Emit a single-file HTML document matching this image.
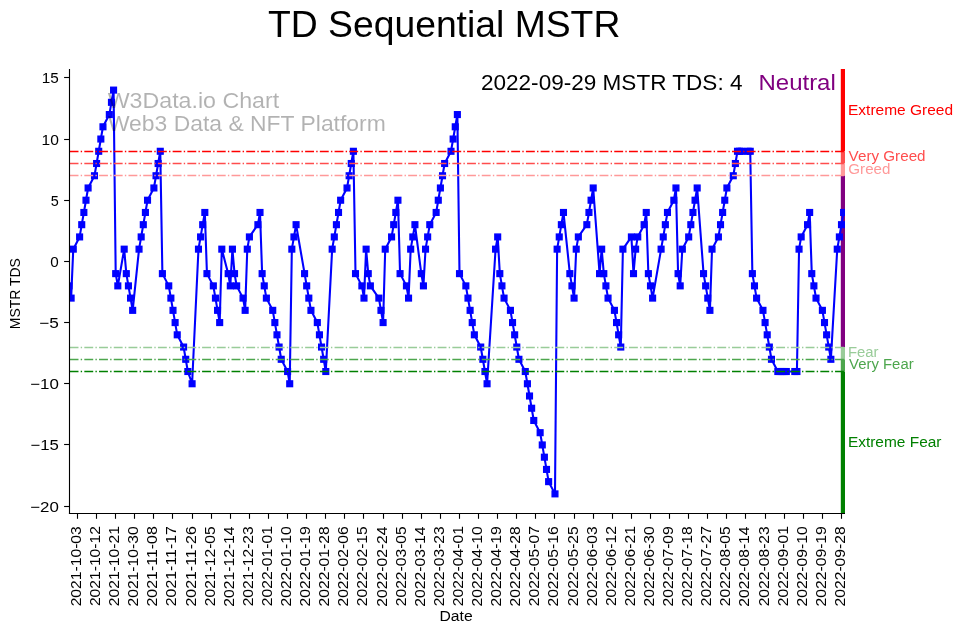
<!DOCTYPE html><html><head><meta charset="utf-8"><title>TD Sequential MSTR</title>
<style>html,body{margin:0;padding:0;background:#fff;width:962px;height:633px;overflow:hidden}svg{display:block;will-change:transform}text{font-family:"Liberation Sans",sans-serif;}</style></head><body>
<svg width="962" height="633" viewBox="0 0 962 633">
<rect x="0" y="0" width="962" height="633" fill="#fff"/>
<defs><clipPath id="ax"><rect x="69.0" y="69.0" width="776.0" height="445.0"/></clipPath></defs>
<rect x="840.8" y="69.00" width="4.20" height="82.28" fill="#ff0000"/>
<rect x="840.8" y="151.28" width="4.20" height="12.24" fill="#ff4d4d"/>
<rect x="840.8" y="163.51" width="4.20" height="12.24" fill="#ff9999"/>
<rect x="840.8" y="175.75" width="4.20" height="171.30" fill="#800080"/>
<rect x="840.8" y="347.05" width="4.20" height="12.24" fill="#99cc99"/>
<rect x="840.8" y="359.29" width="4.20" height="12.24" fill="#4da64d"/>
<rect x="840.8" y="371.52" width="4.20" height="142.48" fill="#008000"/>
<g clip-path="url(#ax)">
<polyline fill="none" stroke="#0000ff" stroke-width="2.08" stroke-linejoin="round" stroke-linecap="square" points="69.01,285.87 71.13,298.11 73.26,249.16 79.62,236.93 81.74,224.69 83.87,212.46 85.99,200.22 88.11,187.98 94.48,175.75 96.60,163.51 98.72,151.28 100.84,139.04 102.97,126.80 109.33,114.57 111.46,102.33 113.58,90.10 115.70,273.64 117.82,285.87 124.19,249.16 126.31,273.64 128.43,285.87 130.56,298.11 132.68,310.34 139.04,249.16 141.17,236.93 143.29,224.69 145.41,212.46 147.53,200.22 153.90,187.98 156.02,175.75 158.14,163.51 160.27,151.28 162.39,273.64 168.75,285.87 170.88,298.11 173.00,310.34 175.12,322.58 177.24,334.82 183.61,347.05 185.73,359.29 187.85,371.52 192.10,383.76 198.47,249.16 200.59,236.93 202.71,224.69 204.83,212.46 206.95,273.64 213.32,285.87 215.44,298.11 217.57,310.34 219.69,322.58 221.81,249.16 228.18,273.64 230.30,285.87 232.42,249.16 234.54,273.64 236.66,285.87 243.03,298.11 245.15,310.34 247.28,249.16 249.40,236.93 257.89,224.69 260.01,212.46 262.13,273.64 264.25,285.87 266.38,298.11 272.74,310.34 274.86,322.58 276.99,334.82 279.11,347.05 281.23,359.29 287.60,371.52 289.72,383.76 291.84,249.16 293.96,236.93 296.09,224.69 304.58,273.64 306.70,285.87 308.82,298.11 310.94,310.34 317.31,322.58 319.43,334.82 321.55,347.05 323.68,359.29 325.80,371.52 332.16,249.16 334.29,236.93 336.41,224.69 338.53,212.46 340.65,200.22 347.02,187.98 349.14,175.75 351.26,163.51 353.39,151.28 355.51,273.64 361.87,285.87 364.00,298.11 366.12,249.16 368.24,273.64 370.36,285.87 378.85,298.11 380.97,310.34 383.10,322.58 385.22,249.16 391.59,236.93 393.71,224.69 395.83,212.46 397.95,200.22 400.07,273.64 406.44,285.87 408.56,298.11 410.69,249.16 412.81,236.93 414.93,224.69 421.30,273.64 423.42,285.87 425.54,249.16 427.66,236.93 429.79,224.69 436.15,212.46 438.27,200.22 440.40,187.98 442.52,175.75 444.64,163.51 451.01,151.28 453.13,139.04 455.25,126.80 457.37,114.57 459.50,273.64 465.86,285.87 467.98,298.11 470.11,310.34 472.23,322.58 474.35,334.82 480.72,347.05 482.84,359.29 484.96,371.52 487.08,383.76 495.57,249.16 497.70,236.93 499.82,273.64 501.94,285.87 504.06,298.11 510.43,310.34 512.55,322.58 514.67,334.82 516.80,347.05 518.92,359.29 525.28,371.52 527.41,383.76 529.53,396.00 531.65,408.23 533.77,420.47 540.14,432.70 542.26,444.94 544.38,457.18 546.51,469.41 548.63,481.65 554.99,493.88 557.12,249.16 559.24,236.93 561.36,224.69 563.48,212.46 569.85,273.64 571.97,285.87 574.09,298.11 576.22,249.16 578.34,236.93 586.83,224.69 588.95,212.46 591.07,200.22 593.19,187.98 599.56,273.64 601.68,249.16 603.81,273.64 605.93,285.87 608.05,298.11 614.42,310.34 616.54,322.58 618.66,334.82 620.78,347.05 622.91,249.16 631.39,236.93 633.52,273.64 635.64,249.16 637.76,236.93 644.13,224.69 646.25,212.46 648.37,273.64 650.49,285.87 652.62,298.11 661.11,249.16 663.23,236.93 665.35,224.69 667.47,212.46 673.84,200.22 675.96,187.98 678.08,273.64 680.20,285.87 682.33,249.16 688.69,236.93 690.82,224.69 692.94,212.46 695.06,200.22 697.18,187.98 703.55,273.64 705.67,285.87 707.79,298.11 709.92,310.34 712.04,249.16 718.40,236.93 720.53,224.69 722.65,212.46 724.77,200.22 726.89,187.98 733.26,175.75 735.38,163.51 737.50,151.28 739.63,151.28 741.75,151.28 748.12,151.28 750.24,151.28 752.36,273.64 754.48,285.87 756.60,298.11 762.97,310.34 765.09,322.58 767.21,334.82 769.34,347.05 771.46,359.29 777.83,371.52 779.95,371.52 782.07,371.52 784.19,371.52 786.31,371.52 794.80,371.52 796.93,371.52 799.05,249.16 801.17,236.93 807.54,224.69 809.66,212.46 811.78,273.64 813.90,285.87 816.03,298.11 822.39,310.34 824.51,322.58 826.64,334.82 828.76,347.05 830.88,359.29 837.25,249.16 839.37,236.93 841.49,224.69 843.61,212.46"/>
<rect x="66.16" y="283.02" width="5.7" height="5.7" fill="#0000ff" stroke="#0000ff" stroke-width="1.39" stroke-linejoin="miter"/>
<rect x="68.28" y="295.26" width="5.7" height="5.7" fill="#0000ff" stroke="#0000ff" stroke-width="1.39" stroke-linejoin="miter"/>
<rect x="70.41" y="246.31" width="5.7" height="5.7" fill="#0000ff" stroke="#0000ff" stroke-width="1.39" stroke-linejoin="miter"/>
<rect x="76.77" y="234.08" width="5.7" height="5.7" fill="#0000ff" stroke="#0000ff" stroke-width="1.39" stroke-linejoin="miter"/>
<rect x="78.89" y="221.84" width="5.7" height="5.7" fill="#0000ff" stroke="#0000ff" stroke-width="1.39" stroke-linejoin="miter"/>
<rect x="81.02" y="209.61" width="5.7" height="5.7" fill="#0000ff" stroke="#0000ff" stroke-width="1.39" stroke-linejoin="miter"/>
<rect x="83.14" y="197.37" width="5.7" height="5.7" fill="#0000ff" stroke="#0000ff" stroke-width="1.39" stroke-linejoin="miter"/>
<rect x="85.26" y="185.13" width="5.7" height="5.7" fill="#0000ff" stroke="#0000ff" stroke-width="1.39" stroke-linejoin="miter"/>
<rect x="91.63" y="172.90" width="5.7" height="5.7" fill="#0000ff" stroke="#0000ff" stroke-width="1.39" stroke-linejoin="miter"/>
<rect x="93.75" y="160.66" width="5.7" height="5.7" fill="#0000ff" stroke="#0000ff" stroke-width="1.39" stroke-linejoin="miter"/>
<rect x="95.87" y="148.43" width="5.7" height="5.7" fill="#0000ff" stroke="#0000ff" stroke-width="1.39" stroke-linejoin="miter"/>
<rect x="97.99" y="136.19" width="5.7" height="5.7" fill="#0000ff" stroke="#0000ff" stroke-width="1.39" stroke-linejoin="miter"/>
<rect x="100.12" y="123.95" width="5.7" height="5.7" fill="#0000ff" stroke="#0000ff" stroke-width="1.39" stroke-linejoin="miter"/>
<rect x="106.48" y="111.72" width="5.7" height="5.7" fill="#0000ff" stroke="#0000ff" stroke-width="1.39" stroke-linejoin="miter"/>
<rect x="108.61" y="99.48" width="5.7" height="5.7" fill="#0000ff" stroke="#0000ff" stroke-width="1.39" stroke-linejoin="miter"/>
<rect x="110.73" y="87.25" width="5.7" height="5.7" fill="#0000ff" stroke="#0000ff" stroke-width="1.39" stroke-linejoin="miter"/>
<rect x="112.85" y="270.79" width="5.7" height="5.7" fill="#0000ff" stroke="#0000ff" stroke-width="1.39" stroke-linejoin="miter"/>
<rect x="114.97" y="283.02" width="5.7" height="5.7" fill="#0000ff" stroke="#0000ff" stroke-width="1.39" stroke-linejoin="miter"/>
<rect x="121.34" y="246.31" width="5.7" height="5.7" fill="#0000ff" stroke="#0000ff" stroke-width="1.39" stroke-linejoin="miter"/>
<rect x="123.46" y="270.79" width="5.7" height="5.7" fill="#0000ff" stroke="#0000ff" stroke-width="1.39" stroke-linejoin="miter"/>
<rect x="125.58" y="283.02" width="5.7" height="5.7" fill="#0000ff" stroke="#0000ff" stroke-width="1.39" stroke-linejoin="miter"/>
<rect x="127.71" y="295.26" width="5.7" height="5.7" fill="#0000ff" stroke="#0000ff" stroke-width="1.39" stroke-linejoin="miter"/>
<rect x="129.83" y="307.49" width="5.7" height="5.7" fill="#0000ff" stroke="#0000ff" stroke-width="1.39" stroke-linejoin="miter"/>
<rect x="136.19" y="246.31" width="5.7" height="5.7" fill="#0000ff" stroke="#0000ff" stroke-width="1.39" stroke-linejoin="miter"/>
<rect x="138.32" y="234.08" width="5.7" height="5.7" fill="#0000ff" stroke="#0000ff" stroke-width="1.39" stroke-linejoin="miter"/>
<rect x="140.44" y="221.84" width="5.7" height="5.7" fill="#0000ff" stroke="#0000ff" stroke-width="1.39" stroke-linejoin="miter"/>
<rect x="142.56" y="209.61" width="5.7" height="5.7" fill="#0000ff" stroke="#0000ff" stroke-width="1.39" stroke-linejoin="miter"/>
<rect x="144.68" y="197.37" width="5.7" height="5.7" fill="#0000ff" stroke="#0000ff" stroke-width="1.39" stroke-linejoin="miter"/>
<rect x="151.05" y="185.13" width="5.7" height="5.7" fill="#0000ff" stroke="#0000ff" stroke-width="1.39" stroke-linejoin="miter"/>
<rect x="153.17" y="172.90" width="5.7" height="5.7" fill="#0000ff" stroke="#0000ff" stroke-width="1.39" stroke-linejoin="miter"/>
<rect x="155.29" y="160.66" width="5.7" height="5.7" fill="#0000ff" stroke="#0000ff" stroke-width="1.39" stroke-linejoin="miter"/>
<rect x="157.42" y="148.43" width="5.7" height="5.7" fill="#0000ff" stroke="#0000ff" stroke-width="1.39" stroke-linejoin="miter"/>
<rect x="159.54" y="270.79" width="5.7" height="5.7" fill="#0000ff" stroke="#0000ff" stroke-width="1.39" stroke-linejoin="miter"/>
<rect x="165.90" y="283.02" width="5.7" height="5.7" fill="#0000ff" stroke="#0000ff" stroke-width="1.39" stroke-linejoin="miter"/>
<rect x="168.03" y="295.26" width="5.7" height="5.7" fill="#0000ff" stroke="#0000ff" stroke-width="1.39" stroke-linejoin="miter"/>
<rect x="170.15" y="307.49" width="5.7" height="5.7" fill="#0000ff" stroke="#0000ff" stroke-width="1.39" stroke-linejoin="miter"/>
<rect x="172.27" y="319.73" width="5.7" height="5.7" fill="#0000ff" stroke="#0000ff" stroke-width="1.39" stroke-linejoin="miter"/>
<rect x="174.39" y="331.97" width="5.7" height="5.7" fill="#0000ff" stroke="#0000ff" stroke-width="1.39" stroke-linejoin="miter"/>
<rect x="180.76" y="344.20" width="5.7" height="5.7" fill="#0000ff" stroke="#0000ff" stroke-width="1.39" stroke-linejoin="miter"/>
<rect x="182.88" y="356.44" width="5.7" height="5.7" fill="#0000ff" stroke="#0000ff" stroke-width="1.39" stroke-linejoin="miter"/>
<rect x="185.00" y="368.67" width="5.7" height="5.7" fill="#0000ff" stroke="#0000ff" stroke-width="1.39" stroke-linejoin="miter"/>
<rect x="189.25" y="380.91" width="5.7" height="5.7" fill="#0000ff" stroke="#0000ff" stroke-width="1.39" stroke-linejoin="miter"/>
<rect x="195.62" y="246.31" width="5.7" height="5.7" fill="#0000ff" stroke="#0000ff" stroke-width="1.39" stroke-linejoin="miter"/>
<rect x="197.74" y="234.08" width="5.7" height="5.7" fill="#0000ff" stroke="#0000ff" stroke-width="1.39" stroke-linejoin="miter"/>
<rect x="199.86" y="221.84" width="5.7" height="5.7" fill="#0000ff" stroke="#0000ff" stroke-width="1.39" stroke-linejoin="miter"/>
<rect x="201.98" y="209.61" width="5.7" height="5.7" fill="#0000ff" stroke="#0000ff" stroke-width="1.39" stroke-linejoin="miter"/>
<rect x="204.10" y="270.79" width="5.7" height="5.7" fill="#0000ff" stroke="#0000ff" stroke-width="1.39" stroke-linejoin="miter"/>
<rect x="210.47" y="283.02" width="5.7" height="5.7" fill="#0000ff" stroke="#0000ff" stroke-width="1.39" stroke-linejoin="miter"/>
<rect x="212.59" y="295.26" width="5.7" height="5.7" fill="#0000ff" stroke="#0000ff" stroke-width="1.39" stroke-linejoin="miter"/>
<rect x="214.72" y="307.49" width="5.7" height="5.7" fill="#0000ff" stroke="#0000ff" stroke-width="1.39" stroke-linejoin="miter"/>
<rect x="216.84" y="319.73" width="5.7" height="5.7" fill="#0000ff" stroke="#0000ff" stroke-width="1.39" stroke-linejoin="miter"/>
<rect x="218.96" y="246.31" width="5.7" height="5.7" fill="#0000ff" stroke="#0000ff" stroke-width="1.39" stroke-linejoin="miter"/>
<rect x="225.33" y="270.79" width="5.7" height="5.7" fill="#0000ff" stroke="#0000ff" stroke-width="1.39" stroke-linejoin="miter"/>
<rect x="227.45" y="283.02" width="5.7" height="5.7" fill="#0000ff" stroke="#0000ff" stroke-width="1.39" stroke-linejoin="miter"/>
<rect x="229.57" y="246.31" width="5.7" height="5.7" fill="#0000ff" stroke="#0000ff" stroke-width="1.39" stroke-linejoin="miter"/>
<rect x="231.69" y="270.79" width="5.7" height="5.7" fill="#0000ff" stroke="#0000ff" stroke-width="1.39" stroke-linejoin="miter"/>
<rect x="233.81" y="283.02" width="5.7" height="5.7" fill="#0000ff" stroke="#0000ff" stroke-width="1.39" stroke-linejoin="miter"/>
<rect x="240.18" y="295.26" width="5.7" height="5.7" fill="#0000ff" stroke="#0000ff" stroke-width="1.39" stroke-linejoin="miter"/>
<rect x="242.30" y="307.49" width="5.7" height="5.7" fill="#0000ff" stroke="#0000ff" stroke-width="1.39" stroke-linejoin="miter"/>
<rect x="244.43" y="246.31" width="5.7" height="5.7" fill="#0000ff" stroke="#0000ff" stroke-width="1.39" stroke-linejoin="miter"/>
<rect x="246.55" y="234.08" width="5.7" height="5.7" fill="#0000ff" stroke="#0000ff" stroke-width="1.39" stroke-linejoin="miter"/>
<rect x="255.04" y="221.84" width="5.7" height="5.7" fill="#0000ff" stroke="#0000ff" stroke-width="1.39" stroke-linejoin="miter"/>
<rect x="257.16" y="209.61" width="5.7" height="5.7" fill="#0000ff" stroke="#0000ff" stroke-width="1.39" stroke-linejoin="miter"/>
<rect x="259.28" y="270.79" width="5.7" height="5.7" fill="#0000ff" stroke="#0000ff" stroke-width="1.39" stroke-linejoin="miter"/>
<rect x="261.40" y="283.02" width="5.7" height="5.7" fill="#0000ff" stroke="#0000ff" stroke-width="1.39" stroke-linejoin="miter"/>
<rect x="263.53" y="295.26" width="5.7" height="5.7" fill="#0000ff" stroke="#0000ff" stroke-width="1.39" stroke-linejoin="miter"/>
<rect x="269.89" y="307.49" width="5.7" height="5.7" fill="#0000ff" stroke="#0000ff" stroke-width="1.39" stroke-linejoin="miter"/>
<rect x="272.01" y="319.73" width="5.7" height="5.7" fill="#0000ff" stroke="#0000ff" stroke-width="1.39" stroke-linejoin="miter"/>
<rect x="274.14" y="331.97" width="5.7" height="5.7" fill="#0000ff" stroke="#0000ff" stroke-width="1.39" stroke-linejoin="miter"/>
<rect x="276.26" y="344.20" width="5.7" height="5.7" fill="#0000ff" stroke="#0000ff" stroke-width="1.39" stroke-linejoin="miter"/>
<rect x="278.38" y="356.44" width="5.7" height="5.7" fill="#0000ff" stroke="#0000ff" stroke-width="1.39" stroke-linejoin="miter"/>
<rect x="284.75" y="368.67" width="5.7" height="5.7" fill="#0000ff" stroke="#0000ff" stroke-width="1.39" stroke-linejoin="miter"/>
<rect x="286.87" y="380.91" width="5.7" height="5.7" fill="#0000ff" stroke="#0000ff" stroke-width="1.39" stroke-linejoin="miter"/>
<rect x="288.99" y="246.31" width="5.7" height="5.7" fill="#0000ff" stroke="#0000ff" stroke-width="1.39" stroke-linejoin="miter"/>
<rect x="291.11" y="234.08" width="5.7" height="5.7" fill="#0000ff" stroke="#0000ff" stroke-width="1.39" stroke-linejoin="miter"/>
<rect x="293.24" y="221.84" width="5.7" height="5.7" fill="#0000ff" stroke="#0000ff" stroke-width="1.39" stroke-linejoin="miter"/>
<rect x="301.73" y="270.79" width="5.7" height="5.7" fill="#0000ff" stroke="#0000ff" stroke-width="1.39" stroke-linejoin="miter"/>
<rect x="303.85" y="283.02" width="5.7" height="5.7" fill="#0000ff" stroke="#0000ff" stroke-width="1.39" stroke-linejoin="miter"/>
<rect x="305.97" y="295.26" width="5.7" height="5.7" fill="#0000ff" stroke="#0000ff" stroke-width="1.39" stroke-linejoin="miter"/>
<rect x="308.09" y="307.49" width="5.7" height="5.7" fill="#0000ff" stroke="#0000ff" stroke-width="1.39" stroke-linejoin="miter"/>
<rect x="314.46" y="319.73" width="5.7" height="5.7" fill="#0000ff" stroke="#0000ff" stroke-width="1.39" stroke-linejoin="miter"/>
<rect x="316.58" y="331.97" width="5.7" height="5.7" fill="#0000ff" stroke="#0000ff" stroke-width="1.39" stroke-linejoin="miter"/>
<rect x="318.70" y="344.20" width="5.7" height="5.7" fill="#0000ff" stroke="#0000ff" stroke-width="1.39" stroke-linejoin="miter"/>
<rect x="320.83" y="356.44" width="5.7" height="5.7" fill="#0000ff" stroke="#0000ff" stroke-width="1.39" stroke-linejoin="miter"/>
<rect x="322.95" y="368.67" width="5.7" height="5.7" fill="#0000ff" stroke="#0000ff" stroke-width="1.39" stroke-linejoin="miter"/>
<rect x="329.31" y="246.31" width="5.7" height="5.7" fill="#0000ff" stroke="#0000ff" stroke-width="1.39" stroke-linejoin="miter"/>
<rect x="331.44" y="234.08" width="5.7" height="5.7" fill="#0000ff" stroke="#0000ff" stroke-width="1.39" stroke-linejoin="miter"/>
<rect x="333.56" y="221.84" width="5.7" height="5.7" fill="#0000ff" stroke="#0000ff" stroke-width="1.39" stroke-linejoin="miter"/>
<rect x="335.68" y="209.61" width="5.7" height="5.7" fill="#0000ff" stroke="#0000ff" stroke-width="1.39" stroke-linejoin="miter"/>
<rect x="337.80" y="197.37" width="5.7" height="5.7" fill="#0000ff" stroke="#0000ff" stroke-width="1.39" stroke-linejoin="miter"/>
<rect x="344.17" y="185.13" width="5.7" height="5.7" fill="#0000ff" stroke="#0000ff" stroke-width="1.39" stroke-linejoin="miter"/>
<rect x="346.29" y="172.90" width="5.7" height="5.7" fill="#0000ff" stroke="#0000ff" stroke-width="1.39" stroke-linejoin="miter"/>
<rect x="348.41" y="160.66" width="5.7" height="5.7" fill="#0000ff" stroke="#0000ff" stroke-width="1.39" stroke-linejoin="miter"/>
<rect x="350.54" y="148.43" width="5.7" height="5.7" fill="#0000ff" stroke="#0000ff" stroke-width="1.39" stroke-linejoin="miter"/>
<rect x="352.66" y="270.79" width="5.7" height="5.7" fill="#0000ff" stroke="#0000ff" stroke-width="1.39" stroke-linejoin="miter"/>
<rect x="359.02" y="283.02" width="5.7" height="5.7" fill="#0000ff" stroke="#0000ff" stroke-width="1.39" stroke-linejoin="miter"/>
<rect x="361.15" y="295.26" width="5.7" height="5.7" fill="#0000ff" stroke="#0000ff" stroke-width="1.39" stroke-linejoin="miter"/>
<rect x="363.27" y="246.31" width="5.7" height="5.7" fill="#0000ff" stroke="#0000ff" stroke-width="1.39" stroke-linejoin="miter"/>
<rect x="365.39" y="270.79" width="5.7" height="5.7" fill="#0000ff" stroke="#0000ff" stroke-width="1.39" stroke-linejoin="miter"/>
<rect x="367.51" y="283.02" width="5.7" height="5.7" fill="#0000ff" stroke="#0000ff" stroke-width="1.39" stroke-linejoin="miter"/>
<rect x="376.00" y="295.26" width="5.7" height="5.7" fill="#0000ff" stroke="#0000ff" stroke-width="1.39" stroke-linejoin="miter"/>
<rect x="378.12" y="307.49" width="5.7" height="5.7" fill="#0000ff" stroke="#0000ff" stroke-width="1.39" stroke-linejoin="miter"/>
<rect x="380.25" y="319.73" width="5.7" height="5.7" fill="#0000ff" stroke="#0000ff" stroke-width="1.39" stroke-linejoin="miter"/>
<rect x="382.37" y="246.31" width="5.7" height="5.7" fill="#0000ff" stroke="#0000ff" stroke-width="1.39" stroke-linejoin="miter"/>
<rect x="388.74" y="234.08" width="5.7" height="5.7" fill="#0000ff" stroke="#0000ff" stroke-width="1.39" stroke-linejoin="miter"/>
<rect x="390.86" y="221.84" width="5.7" height="5.7" fill="#0000ff" stroke="#0000ff" stroke-width="1.39" stroke-linejoin="miter"/>
<rect x="392.98" y="209.61" width="5.7" height="5.7" fill="#0000ff" stroke="#0000ff" stroke-width="1.39" stroke-linejoin="miter"/>
<rect x="395.10" y="197.37" width="5.7" height="5.7" fill="#0000ff" stroke="#0000ff" stroke-width="1.39" stroke-linejoin="miter"/>
<rect x="397.22" y="270.79" width="5.7" height="5.7" fill="#0000ff" stroke="#0000ff" stroke-width="1.39" stroke-linejoin="miter"/>
<rect x="403.59" y="283.02" width="5.7" height="5.7" fill="#0000ff" stroke="#0000ff" stroke-width="1.39" stroke-linejoin="miter"/>
<rect x="405.71" y="295.26" width="5.7" height="5.7" fill="#0000ff" stroke="#0000ff" stroke-width="1.39" stroke-linejoin="miter"/>
<rect x="407.84" y="246.31" width="5.7" height="5.7" fill="#0000ff" stroke="#0000ff" stroke-width="1.39" stroke-linejoin="miter"/>
<rect x="409.96" y="234.08" width="5.7" height="5.7" fill="#0000ff" stroke="#0000ff" stroke-width="1.39" stroke-linejoin="miter"/>
<rect x="412.08" y="221.84" width="5.7" height="5.7" fill="#0000ff" stroke="#0000ff" stroke-width="1.39" stroke-linejoin="miter"/>
<rect x="418.45" y="270.79" width="5.7" height="5.7" fill="#0000ff" stroke="#0000ff" stroke-width="1.39" stroke-linejoin="miter"/>
<rect x="420.57" y="283.02" width="5.7" height="5.7" fill="#0000ff" stroke="#0000ff" stroke-width="1.39" stroke-linejoin="miter"/>
<rect x="422.69" y="246.31" width="5.7" height="5.7" fill="#0000ff" stroke="#0000ff" stroke-width="1.39" stroke-linejoin="miter"/>
<rect x="424.81" y="234.08" width="5.7" height="5.7" fill="#0000ff" stroke="#0000ff" stroke-width="1.39" stroke-linejoin="miter"/>
<rect x="426.94" y="221.84" width="5.7" height="5.7" fill="#0000ff" stroke="#0000ff" stroke-width="1.39" stroke-linejoin="miter"/>
<rect x="433.30" y="209.61" width="5.7" height="5.7" fill="#0000ff" stroke="#0000ff" stroke-width="1.39" stroke-linejoin="miter"/>
<rect x="435.42" y="197.37" width="5.7" height="5.7" fill="#0000ff" stroke="#0000ff" stroke-width="1.39" stroke-linejoin="miter"/>
<rect x="437.55" y="185.13" width="5.7" height="5.7" fill="#0000ff" stroke="#0000ff" stroke-width="1.39" stroke-linejoin="miter"/>
<rect x="439.67" y="172.90" width="5.7" height="5.7" fill="#0000ff" stroke="#0000ff" stroke-width="1.39" stroke-linejoin="miter"/>
<rect x="441.79" y="160.66" width="5.7" height="5.7" fill="#0000ff" stroke="#0000ff" stroke-width="1.39" stroke-linejoin="miter"/>
<rect x="448.16" y="148.43" width="5.7" height="5.7" fill="#0000ff" stroke="#0000ff" stroke-width="1.39" stroke-linejoin="miter"/>
<rect x="450.28" y="136.19" width="5.7" height="5.7" fill="#0000ff" stroke="#0000ff" stroke-width="1.39" stroke-linejoin="miter"/>
<rect x="452.40" y="123.95" width="5.7" height="5.7" fill="#0000ff" stroke="#0000ff" stroke-width="1.39" stroke-linejoin="miter"/>
<rect x="454.52" y="111.72" width="5.7" height="5.7" fill="#0000ff" stroke="#0000ff" stroke-width="1.39" stroke-linejoin="miter"/>
<rect x="456.65" y="270.79" width="5.7" height="5.7" fill="#0000ff" stroke="#0000ff" stroke-width="1.39" stroke-linejoin="miter"/>
<rect x="463.01" y="283.02" width="5.7" height="5.7" fill="#0000ff" stroke="#0000ff" stroke-width="1.39" stroke-linejoin="miter"/>
<rect x="465.13" y="295.26" width="5.7" height="5.7" fill="#0000ff" stroke="#0000ff" stroke-width="1.39" stroke-linejoin="miter"/>
<rect x="467.26" y="307.49" width="5.7" height="5.7" fill="#0000ff" stroke="#0000ff" stroke-width="1.39" stroke-linejoin="miter"/>
<rect x="469.38" y="319.73" width="5.7" height="5.7" fill="#0000ff" stroke="#0000ff" stroke-width="1.39" stroke-linejoin="miter"/>
<rect x="471.50" y="331.97" width="5.7" height="5.7" fill="#0000ff" stroke="#0000ff" stroke-width="1.39" stroke-linejoin="miter"/>
<rect x="477.87" y="344.20" width="5.7" height="5.7" fill="#0000ff" stroke="#0000ff" stroke-width="1.39" stroke-linejoin="miter"/>
<rect x="479.99" y="356.44" width="5.7" height="5.7" fill="#0000ff" stroke="#0000ff" stroke-width="1.39" stroke-linejoin="miter"/>
<rect x="482.11" y="368.67" width="5.7" height="5.7" fill="#0000ff" stroke="#0000ff" stroke-width="1.39" stroke-linejoin="miter"/>
<rect x="484.23" y="380.91" width="5.7" height="5.7" fill="#0000ff" stroke="#0000ff" stroke-width="1.39" stroke-linejoin="miter"/>
<rect x="492.72" y="246.31" width="5.7" height="5.7" fill="#0000ff" stroke="#0000ff" stroke-width="1.39" stroke-linejoin="miter"/>
<rect x="494.85" y="234.08" width="5.7" height="5.7" fill="#0000ff" stroke="#0000ff" stroke-width="1.39" stroke-linejoin="miter"/>
<rect x="496.97" y="270.79" width="5.7" height="5.7" fill="#0000ff" stroke="#0000ff" stroke-width="1.39" stroke-linejoin="miter"/>
<rect x="499.09" y="283.02" width="5.7" height="5.7" fill="#0000ff" stroke="#0000ff" stroke-width="1.39" stroke-linejoin="miter"/>
<rect x="501.21" y="295.26" width="5.7" height="5.7" fill="#0000ff" stroke="#0000ff" stroke-width="1.39" stroke-linejoin="miter"/>
<rect x="507.58" y="307.49" width="5.7" height="5.7" fill="#0000ff" stroke="#0000ff" stroke-width="1.39" stroke-linejoin="miter"/>
<rect x="509.70" y="319.73" width="5.7" height="5.7" fill="#0000ff" stroke="#0000ff" stroke-width="1.39" stroke-linejoin="miter"/>
<rect x="511.82" y="331.97" width="5.7" height="5.7" fill="#0000ff" stroke="#0000ff" stroke-width="1.39" stroke-linejoin="miter"/>
<rect x="513.95" y="344.20" width="5.7" height="5.7" fill="#0000ff" stroke="#0000ff" stroke-width="1.39" stroke-linejoin="miter"/>
<rect x="516.07" y="356.44" width="5.7" height="5.7" fill="#0000ff" stroke="#0000ff" stroke-width="1.39" stroke-linejoin="miter"/>
<rect x="522.43" y="368.67" width="5.7" height="5.7" fill="#0000ff" stroke="#0000ff" stroke-width="1.39" stroke-linejoin="miter"/>
<rect x="524.56" y="380.91" width="5.7" height="5.7" fill="#0000ff" stroke="#0000ff" stroke-width="1.39" stroke-linejoin="miter"/>
<rect x="526.68" y="393.15" width="5.7" height="5.7" fill="#0000ff" stroke="#0000ff" stroke-width="1.39" stroke-linejoin="miter"/>
<rect x="528.80" y="405.38" width="5.7" height="5.7" fill="#0000ff" stroke="#0000ff" stroke-width="1.39" stroke-linejoin="miter"/>
<rect x="530.92" y="417.62" width="5.7" height="5.7" fill="#0000ff" stroke="#0000ff" stroke-width="1.39" stroke-linejoin="miter"/>
<rect x="537.29" y="429.85" width="5.7" height="5.7" fill="#0000ff" stroke="#0000ff" stroke-width="1.39" stroke-linejoin="miter"/>
<rect x="539.41" y="442.09" width="5.7" height="5.7" fill="#0000ff" stroke="#0000ff" stroke-width="1.39" stroke-linejoin="miter"/>
<rect x="541.53" y="454.33" width="5.7" height="5.7" fill="#0000ff" stroke="#0000ff" stroke-width="1.39" stroke-linejoin="miter"/>
<rect x="543.66" y="466.56" width="5.7" height="5.7" fill="#0000ff" stroke="#0000ff" stroke-width="1.39" stroke-linejoin="miter"/>
<rect x="545.78" y="478.80" width="5.7" height="5.7" fill="#0000ff" stroke="#0000ff" stroke-width="1.39" stroke-linejoin="miter"/>
<rect x="552.14" y="491.03" width="5.7" height="5.7" fill="#0000ff" stroke="#0000ff" stroke-width="1.39" stroke-linejoin="miter"/>
<rect x="554.27" y="246.31" width="5.7" height="5.7" fill="#0000ff" stroke="#0000ff" stroke-width="1.39" stroke-linejoin="miter"/>
<rect x="556.39" y="234.08" width="5.7" height="5.7" fill="#0000ff" stroke="#0000ff" stroke-width="1.39" stroke-linejoin="miter"/>
<rect x="558.51" y="221.84" width="5.7" height="5.7" fill="#0000ff" stroke="#0000ff" stroke-width="1.39" stroke-linejoin="miter"/>
<rect x="560.63" y="209.61" width="5.7" height="5.7" fill="#0000ff" stroke="#0000ff" stroke-width="1.39" stroke-linejoin="miter"/>
<rect x="567.00" y="270.79" width="5.7" height="5.7" fill="#0000ff" stroke="#0000ff" stroke-width="1.39" stroke-linejoin="miter"/>
<rect x="569.12" y="283.02" width="5.7" height="5.7" fill="#0000ff" stroke="#0000ff" stroke-width="1.39" stroke-linejoin="miter"/>
<rect x="571.24" y="295.26" width="5.7" height="5.7" fill="#0000ff" stroke="#0000ff" stroke-width="1.39" stroke-linejoin="miter"/>
<rect x="573.37" y="246.31" width="5.7" height="5.7" fill="#0000ff" stroke="#0000ff" stroke-width="1.39" stroke-linejoin="miter"/>
<rect x="575.49" y="234.08" width="5.7" height="5.7" fill="#0000ff" stroke="#0000ff" stroke-width="1.39" stroke-linejoin="miter"/>
<rect x="583.98" y="221.84" width="5.7" height="5.7" fill="#0000ff" stroke="#0000ff" stroke-width="1.39" stroke-linejoin="miter"/>
<rect x="586.10" y="209.61" width="5.7" height="5.7" fill="#0000ff" stroke="#0000ff" stroke-width="1.39" stroke-linejoin="miter"/>
<rect x="588.22" y="197.37" width="5.7" height="5.7" fill="#0000ff" stroke="#0000ff" stroke-width="1.39" stroke-linejoin="miter"/>
<rect x="590.34" y="185.13" width="5.7" height="5.7" fill="#0000ff" stroke="#0000ff" stroke-width="1.39" stroke-linejoin="miter"/>
<rect x="596.71" y="270.79" width="5.7" height="5.7" fill="#0000ff" stroke="#0000ff" stroke-width="1.39" stroke-linejoin="miter"/>
<rect x="598.83" y="246.31" width="5.7" height="5.7" fill="#0000ff" stroke="#0000ff" stroke-width="1.39" stroke-linejoin="miter"/>
<rect x="600.96" y="270.79" width="5.7" height="5.7" fill="#0000ff" stroke="#0000ff" stroke-width="1.39" stroke-linejoin="miter"/>
<rect x="603.08" y="283.02" width="5.7" height="5.7" fill="#0000ff" stroke="#0000ff" stroke-width="1.39" stroke-linejoin="miter"/>
<rect x="605.20" y="295.26" width="5.7" height="5.7" fill="#0000ff" stroke="#0000ff" stroke-width="1.39" stroke-linejoin="miter"/>
<rect x="611.57" y="307.49" width="5.7" height="5.7" fill="#0000ff" stroke="#0000ff" stroke-width="1.39" stroke-linejoin="miter"/>
<rect x="613.69" y="319.73" width="5.7" height="5.7" fill="#0000ff" stroke="#0000ff" stroke-width="1.39" stroke-linejoin="miter"/>
<rect x="615.81" y="331.97" width="5.7" height="5.7" fill="#0000ff" stroke="#0000ff" stroke-width="1.39" stroke-linejoin="miter"/>
<rect x="617.93" y="344.20" width="5.7" height="5.7" fill="#0000ff" stroke="#0000ff" stroke-width="1.39" stroke-linejoin="miter"/>
<rect x="620.06" y="246.31" width="5.7" height="5.7" fill="#0000ff" stroke="#0000ff" stroke-width="1.39" stroke-linejoin="miter"/>
<rect x="628.54" y="234.08" width="5.7" height="5.7" fill="#0000ff" stroke="#0000ff" stroke-width="1.39" stroke-linejoin="miter"/>
<rect x="630.67" y="270.79" width="5.7" height="5.7" fill="#0000ff" stroke="#0000ff" stroke-width="1.39" stroke-linejoin="miter"/>
<rect x="632.79" y="246.31" width="5.7" height="5.7" fill="#0000ff" stroke="#0000ff" stroke-width="1.39" stroke-linejoin="miter"/>
<rect x="634.91" y="234.08" width="5.7" height="5.7" fill="#0000ff" stroke="#0000ff" stroke-width="1.39" stroke-linejoin="miter"/>
<rect x="641.28" y="221.84" width="5.7" height="5.7" fill="#0000ff" stroke="#0000ff" stroke-width="1.39" stroke-linejoin="miter"/>
<rect x="643.40" y="209.61" width="5.7" height="5.7" fill="#0000ff" stroke="#0000ff" stroke-width="1.39" stroke-linejoin="miter"/>
<rect x="645.52" y="270.79" width="5.7" height="5.7" fill="#0000ff" stroke="#0000ff" stroke-width="1.39" stroke-linejoin="miter"/>
<rect x="647.64" y="283.02" width="5.7" height="5.7" fill="#0000ff" stroke="#0000ff" stroke-width="1.39" stroke-linejoin="miter"/>
<rect x="649.77" y="295.26" width="5.7" height="5.7" fill="#0000ff" stroke="#0000ff" stroke-width="1.39" stroke-linejoin="miter"/>
<rect x="658.25" y="246.31" width="5.7" height="5.7" fill="#0000ff" stroke="#0000ff" stroke-width="1.39" stroke-linejoin="miter"/>
<rect x="660.38" y="234.08" width="5.7" height="5.7" fill="#0000ff" stroke="#0000ff" stroke-width="1.39" stroke-linejoin="miter"/>
<rect x="662.50" y="221.84" width="5.7" height="5.7" fill="#0000ff" stroke="#0000ff" stroke-width="1.39" stroke-linejoin="miter"/>
<rect x="664.62" y="209.61" width="5.7" height="5.7" fill="#0000ff" stroke="#0000ff" stroke-width="1.39" stroke-linejoin="miter"/>
<rect x="670.99" y="197.37" width="5.7" height="5.7" fill="#0000ff" stroke="#0000ff" stroke-width="1.39" stroke-linejoin="miter"/>
<rect x="673.11" y="185.13" width="5.7" height="5.7" fill="#0000ff" stroke="#0000ff" stroke-width="1.39" stroke-linejoin="miter"/>
<rect x="675.23" y="270.79" width="5.7" height="5.7" fill="#0000ff" stroke="#0000ff" stroke-width="1.39" stroke-linejoin="miter"/>
<rect x="677.35" y="283.02" width="5.7" height="5.7" fill="#0000ff" stroke="#0000ff" stroke-width="1.39" stroke-linejoin="miter"/>
<rect x="679.48" y="246.31" width="5.7" height="5.7" fill="#0000ff" stroke="#0000ff" stroke-width="1.39" stroke-linejoin="miter"/>
<rect x="685.84" y="234.08" width="5.7" height="5.7" fill="#0000ff" stroke="#0000ff" stroke-width="1.39" stroke-linejoin="miter"/>
<rect x="687.97" y="221.84" width="5.7" height="5.7" fill="#0000ff" stroke="#0000ff" stroke-width="1.39" stroke-linejoin="miter"/>
<rect x="690.09" y="209.61" width="5.7" height="5.7" fill="#0000ff" stroke="#0000ff" stroke-width="1.39" stroke-linejoin="miter"/>
<rect x="692.21" y="197.37" width="5.7" height="5.7" fill="#0000ff" stroke="#0000ff" stroke-width="1.39" stroke-linejoin="miter"/>
<rect x="694.33" y="185.13" width="5.7" height="5.7" fill="#0000ff" stroke="#0000ff" stroke-width="1.39" stroke-linejoin="miter"/>
<rect x="700.70" y="270.79" width="5.7" height="5.7" fill="#0000ff" stroke="#0000ff" stroke-width="1.39" stroke-linejoin="miter"/>
<rect x="702.82" y="283.02" width="5.7" height="5.7" fill="#0000ff" stroke="#0000ff" stroke-width="1.39" stroke-linejoin="miter"/>
<rect x="704.94" y="295.26" width="5.7" height="5.7" fill="#0000ff" stroke="#0000ff" stroke-width="1.39" stroke-linejoin="miter"/>
<rect x="707.07" y="307.49" width="5.7" height="5.7" fill="#0000ff" stroke="#0000ff" stroke-width="1.39" stroke-linejoin="miter"/>
<rect x="709.19" y="246.31" width="5.7" height="5.7" fill="#0000ff" stroke="#0000ff" stroke-width="1.39" stroke-linejoin="miter"/>
<rect x="715.55" y="234.08" width="5.7" height="5.7" fill="#0000ff" stroke="#0000ff" stroke-width="1.39" stroke-linejoin="miter"/>
<rect x="717.68" y="221.84" width="5.7" height="5.7" fill="#0000ff" stroke="#0000ff" stroke-width="1.39" stroke-linejoin="miter"/>
<rect x="719.80" y="209.61" width="5.7" height="5.7" fill="#0000ff" stroke="#0000ff" stroke-width="1.39" stroke-linejoin="miter"/>
<rect x="721.92" y="197.37" width="5.7" height="5.7" fill="#0000ff" stroke="#0000ff" stroke-width="1.39" stroke-linejoin="miter"/>
<rect x="724.04" y="185.13" width="5.7" height="5.7" fill="#0000ff" stroke="#0000ff" stroke-width="1.39" stroke-linejoin="miter"/>
<rect x="730.41" y="172.90" width="5.7" height="5.7" fill="#0000ff" stroke="#0000ff" stroke-width="1.39" stroke-linejoin="miter"/>
<rect x="732.53" y="160.66" width="5.7" height="5.7" fill="#0000ff" stroke="#0000ff" stroke-width="1.39" stroke-linejoin="miter"/>
<rect x="734.65" y="148.43" width="5.7" height="5.7" fill="#0000ff" stroke="#0000ff" stroke-width="1.39" stroke-linejoin="miter"/>
<rect x="736.78" y="148.43" width="5.7" height="5.7" fill="#0000ff" stroke="#0000ff" stroke-width="1.39" stroke-linejoin="miter"/>
<rect x="738.90" y="148.43" width="5.7" height="5.7" fill="#0000ff" stroke="#0000ff" stroke-width="1.39" stroke-linejoin="miter"/>
<rect x="745.27" y="148.43" width="5.7" height="5.7" fill="#0000ff" stroke="#0000ff" stroke-width="1.39" stroke-linejoin="miter"/>
<rect x="747.39" y="148.43" width="5.7" height="5.7" fill="#0000ff" stroke="#0000ff" stroke-width="1.39" stroke-linejoin="miter"/>
<rect x="749.51" y="270.79" width="5.7" height="5.7" fill="#0000ff" stroke="#0000ff" stroke-width="1.39" stroke-linejoin="miter"/>
<rect x="751.63" y="283.02" width="5.7" height="5.7" fill="#0000ff" stroke="#0000ff" stroke-width="1.39" stroke-linejoin="miter"/>
<rect x="753.75" y="295.26" width="5.7" height="5.7" fill="#0000ff" stroke="#0000ff" stroke-width="1.39" stroke-linejoin="miter"/>
<rect x="760.12" y="307.49" width="5.7" height="5.7" fill="#0000ff" stroke="#0000ff" stroke-width="1.39" stroke-linejoin="miter"/>
<rect x="762.24" y="319.73" width="5.7" height="5.7" fill="#0000ff" stroke="#0000ff" stroke-width="1.39" stroke-linejoin="miter"/>
<rect x="764.36" y="331.97" width="5.7" height="5.7" fill="#0000ff" stroke="#0000ff" stroke-width="1.39" stroke-linejoin="miter"/>
<rect x="766.49" y="344.20" width="5.7" height="5.7" fill="#0000ff" stroke="#0000ff" stroke-width="1.39" stroke-linejoin="miter"/>
<rect x="768.61" y="356.44" width="5.7" height="5.7" fill="#0000ff" stroke="#0000ff" stroke-width="1.39" stroke-linejoin="miter"/>
<rect x="774.98" y="368.67" width="5.7" height="5.7" fill="#0000ff" stroke="#0000ff" stroke-width="1.39" stroke-linejoin="miter"/>
<rect x="777.10" y="368.67" width="5.7" height="5.7" fill="#0000ff" stroke="#0000ff" stroke-width="1.39" stroke-linejoin="miter"/>
<rect x="779.22" y="368.67" width="5.7" height="5.7" fill="#0000ff" stroke="#0000ff" stroke-width="1.39" stroke-linejoin="miter"/>
<rect x="781.34" y="368.67" width="5.7" height="5.7" fill="#0000ff" stroke="#0000ff" stroke-width="1.39" stroke-linejoin="miter"/>
<rect x="783.46" y="368.67" width="5.7" height="5.7" fill="#0000ff" stroke="#0000ff" stroke-width="1.39" stroke-linejoin="miter"/>
<rect x="791.95" y="368.67" width="5.7" height="5.7" fill="#0000ff" stroke="#0000ff" stroke-width="1.39" stroke-linejoin="miter"/>
<rect x="794.08" y="368.67" width="5.7" height="5.7" fill="#0000ff" stroke="#0000ff" stroke-width="1.39" stroke-linejoin="miter"/>
<rect x="796.20" y="246.31" width="5.7" height="5.7" fill="#0000ff" stroke="#0000ff" stroke-width="1.39" stroke-linejoin="miter"/>
<rect x="798.32" y="234.08" width="5.7" height="5.7" fill="#0000ff" stroke="#0000ff" stroke-width="1.39" stroke-linejoin="miter"/>
<rect x="804.69" y="221.84" width="5.7" height="5.7" fill="#0000ff" stroke="#0000ff" stroke-width="1.39" stroke-linejoin="miter"/>
<rect x="806.81" y="209.61" width="5.7" height="5.7" fill="#0000ff" stroke="#0000ff" stroke-width="1.39" stroke-linejoin="miter"/>
<rect x="808.93" y="270.79" width="5.7" height="5.7" fill="#0000ff" stroke="#0000ff" stroke-width="1.39" stroke-linejoin="miter"/>
<rect x="811.05" y="283.02" width="5.7" height="5.7" fill="#0000ff" stroke="#0000ff" stroke-width="1.39" stroke-linejoin="miter"/>
<rect x="813.18" y="295.26" width="5.7" height="5.7" fill="#0000ff" stroke="#0000ff" stroke-width="1.39" stroke-linejoin="miter"/>
<rect x="819.54" y="307.49" width="5.7" height="5.7" fill="#0000ff" stroke="#0000ff" stroke-width="1.39" stroke-linejoin="miter"/>
<rect x="821.66" y="319.73" width="5.7" height="5.7" fill="#0000ff" stroke="#0000ff" stroke-width="1.39" stroke-linejoin="miter"/>
<rect x="823.79" y="331.97" width="5.7" height="5.7" fill="#0000ff" stroke="#0000ff" stroke-width="1.39" stroke-linejoin="miter"/>
<rect x="825.91" y="344.20" width="5.7" height="5.7" fill="#0000ff" stroke="#0000ff" stroke-width="1.39" stroke-linejoin="miter"/>
<rect x="828.03" y="356.44" width="5.7" height="5.7" fill="#0000ff" stroke="#0000ff" stroke-width="1.39" stroke-linejoin="miter"/>
<rect x="834.40" y="246.31" width="5.7" height="5.7" fill="#0000ff" stroke="#0000ff" stroke-width="1.39" stroke-linejoin="miter"/>
<rect x="836.52" y="234.08" width="5.7" height="5.7" fill="#0000ff" stroke="#0000ff" stroke-width="1.39" stroke-linejoin="miter"/>
<rect x="838.64" y="221.84" width="5.7" height="5.7" fill="#0000ff" stroke="#0000ff" stroke-width="1.39" stroke-linejoin="miter"/>
<rect x="840.76" y="209.61" width="5.7" height="5.7" fill="#0000ff" stroke="#0000ff" stroke-width="1.39" stroke-linejoin="miter"/>
</g>
<line x1="69.0" y1="151.5" x2="844.0" y2="151.5" stroke="#ff0000" stroke-width="1.39" stroke-dasharray="8.89 2.22 1.39 2.22" stroke-dashoffset="-0.6"/>
<line x1="69.0" y1="163.5" x2="844.0" y2="163.5" stroke="#ff4d4d" stroke-width="1.39" stroke-dasharray="8.89 2.22 1.39 2.22" stroke-dashoffset="-0.6"/>
<line x1="69.0" y1="175.5" x2="844.0" y2="175.5" stroke="#ff9999" stroke-width="1.39" stroke-dasharray="8.89 2.22 1.39 2.22" stroke-dashoffset="-0.6"/>
<line x1="69.0" y1="347.5" x2="844.0" y2="347.5" stroke="#99cc99" stroke-width="1.39" stroke-dasharray="8.89 2.22 1.39 2.22" stroke-dashoffset="-0.6"/>
<line x1="69.0" y1="359.5" x2="844.0" y2="359.5" stroke="#4da64d" stroke-width="1.39" stroke-dasharray="8.89 2.22 1.39 2.22" stroke-dashoffset="-0.6"/>
<line x1="69.0" y1="371.5" x2="844.0" y2="371.5" stroke="#008000" stroke-width="1.39" stroke-dasharray="8.89 2.22 1.39 2.22" stroke-dashoffset="-0.6"/>
<g stroke="#000" stroke-width="1.11" fill="none">
<line x1="69.5" y1="69.0" x2="69.5" y2="514.05"/>
<line x1="68.95" y1="513.5" x2="845.0" y2="513.5"/>
<line x1="64.1" y1="77.5" x2="69.5" y2="77.5"/>
<line x1="64.1" y1="139.5" x2="69.5" y2="139.5"/>
<line x1="64.1" y1="200.5" x2="69.5" y2="200.5"/>
<line x1="64.1" y1="261.5" x2="69.5" y2="261.5"/>
<line x1="64.1" y1="322.5" x2="69.5" y2="322.5"/>
<line x1="64.1" y1="383.5" x2="69.5" y2="383.5"/>
<line x1="64.1" y1="444.5" x2="69.5" y2="444.5"/>
<line x1="64.1" y1="506.5" x2="69.5" y2="506.5"/>
<line x1="77.5" y1="513.5" x2="77.5" y2="518.8"/>
<line x1="96.5" y1="513.5" x2="96.5" y2="518.8"/>
<line x1="115.5" y1="513.5" x2="115.5" y2="518.8"/>
<line x1="134.5" y1="513.5" x2="134.5" y2="518.8"/>
<line x1="153.5" y1="513.5" x2="153.5" y2="518.8"/>
<line x1="172.5" y1="513.5" x2="172.5" y2="518.8"/>
<line x1="192.5" y1="513.5" x2="192.5" y2="518.8"/>
<line x1="211.5" y1="513.5" x2="211.5" y2="518.8"/>
<line x1="230.5" y1="513.5" x2="230.5" y2="518.8"/>
<line x1="249.5" y1="513.5" x2="249.5" y2="518.8"/>
<line x1="268.5" y1="513.5" x2="268.5" y2="518.8"/>
<line x1="287.5" y1="513.5" x2="287.5" y2="518.8"/>
<line x1="306.5" y1="513.5" x2="306.5" y2="518.8"/>
<line x1="325.5" y1="513.5" x2="325.5" y2="518.8"/>
<line x1="344.5" y1="513.5" x2="344.5" y2="518.8"/>
<line x1="363.5" y1="513.5" x2="363.5" y2="518.8"/>
<line x1="383.5" y1="513.5" x2="383.5" y2="518.8"/>
<line x1="402.5" y1="513.5" x2="402.5" y2="518.8"/>
<line x1="421.5" y1="513.5" x2="421.5" y2="518.8"/>
<line x1="440.5" y1="513.5" x2="440.5" y2="518.8"/>
<line x1="459.5" y1="513.5" x2="459.5" y2="518.8"/>
<line x1="478.5" y1="513.5" x2="478.5" y2="518.8"/>
<line x1="497.5" y1="513.5" x2="497.5" y2="518.8"/>
<line x1="516.5" y1="513.5" x2="516.5" y2="518.8"/>
<line x1="535.5" y1="513.5" x2="535.5" y2="518.8"/>
<line x1="554.5" y1="513.5" x2="554.5" y2="518.8"/>
<line x1="574.5" y1="513.5" x2="574.5" y2="518.8"/>
<line x1="593.5" y1="513.5" x2="593.5" y2="518.8"/>
<line x1="612.5" y1="513.5" x2="612.5" y2="518.8"/>
<line x1="631.5" y1="513.5" x2="631.5" y2="518.8"/>
<line x1="650.5" y1="513.5" x2="650.5" y2="518.8"/>
<line x1="669.5" y1="513.5" x2="669.5" y2="518.8"/>
<line x1="688.5" y1="513.5" x2="688.5" y2="518.8"/>
<line x1="707.5" y1="513.5" x2="707.5" y2="518.8"/>
<line x1="726.5" y1="513.5" x2="726.5" y2="518.8"/>
<line x1="745.5" y1="513.5" x2="745.5" y2="518.8"/>
<line x1="765.5" y1="513.5" x2="765.5" y2="518.8"/>
<line x1="784.5" y1="513.5" x2="784.5" y2="518.8"/>
<line x1="803.5" y1="513.5" x2="803.5" y2="518.8"/>
<line x1="822.5" y1="513.5" x2="822.5" y2="518.8"/>
<line x1="841.5" y1="513.5" x2="841.5" y2="518.8"/>
</g>
<text x="41.80" y="83.10" font-size="14.75" textLength="17.04" lengthAdjust="spacingAndGlyphs" fill="#000">15</text>
<text x="41.49" y="145.10" font-size="14.75" textLength="17.32" lengthAdjust="spacingAndGlyphs" fill="#000">10</text>
<text x="50.77" y="206.10" font-size="14.75" textLength="8.04" lengthAdjust="spacingAndGlyphs" fill="#000">5</text>
<text x="50.30" y="267.10" font-size="14.75" textLength="8.49" lengthAdjust="spacingAndGlyphs" fill="#000">0</text>
<text x="39.26" y="328.10" font-size="14.75" textLength="19.66" lengthAdjust="spacingAndGlyphs" fill="#000">−5</text>
<text x="30.15" y="389.10" font-size="14.75" textLength="28.71" lengthAdjust="spacingAndGlyphs" fill="#000">−10</text>
<text x="30.45" y="450.10" font-size="14.75" textLength="28.46" lengthAdjust="spacingAndGlyphs" fill="#000">−15</text>
<text x="30.15" y="512.10" font-size="14.75" textLength="28.71" lengthAdjust="spacingAndGlyphs" fill="#000">−20</text>
<text transform="translate(80.80,606.37) rotate(-90)" x="0" y="0" font-size="14.75" textLength="80.16" lengthAdjust="spacingAndGlyphs" fill="#000">2021-10-03</text>
<text transform="translate(99.80,606.10) rotate(-90)" x="0" y="0" font-size="14.75" textLength="79.98" lengthAdjust="spacingAndGlyphs" fill="#000">2021-10-12</text>
<text transform="translate(118.80,606.20) rotate(-90)" x="0" y="0" font-size="14.75" textLength="80.07" lengthAdjust="spacingAndGlyphs" fill="#000">2021-10-21</text>
<text transform="translate(137.80,606.57) rotate(-90)" x="0" y="0" font-size="14.75" textLength="80.28" lengthAdjust="spacingAndGlyphs" fill="#000">2021-10-30</text>
<text transform="translate(156.80,606.54) rotate(-90)" x="0" y="0" font-size="14.75" textLength="80.32" lengthAdjust="spacingAndGlyphs" fill="#000">2021-11-08</text>
<text transform="translate(175.80,606.30) rotate(-90)" x="0" y="0" font-size="14.75" textLength="80.19" lengthAdjust="spacingAndGlyphs" fill="#000">2021-11-17</text>
<text transform="translate(195.80,606.61) rotate(-90)" x="0" y="0" font-size="14.75" textLength="80.41" lengthAdjust="spacingAndGlyphs" fill="#000">2021-11-26</text>
<text transform="translate(214.80,606.27) rotate(-90)" x="0" y="0" font-size="14.75" textLength="80.03" lengthAdjust="spacingAndGlyphs" fill="#000">2021-12-05</text>
<text transform="translate(233.80,606.71) rotate(-90)" x="0" y="0" font-size="14.75" textLength="80.27" lengthAdjust="spacingAndGlyphs" fill="#000">2021-12-14</text>
<text transform="translate(252.80,606.37) rotate(-90)" x="0" y="0" font-size="14.75" textLength="80.16" lengthAdjust="spacingAndGlyphs" fill="#000">2021-12-23</text>
<text transform="translate(271.80,606.20) rotate(-90)" x="0" y="0" font-size="14.75" textLength="80.07" lengthAdjust="spacingAndGlyphs" fill="#000">2022-01-01</text>
<text transform="translate(290.80,606.57) rotate(-90)" x="0" y="0" font-size="14.75" textLength="80.28" lengthAdjust="spacingAndGlyphs" fill="#000">2022-01-10</text>
<text transform="translate(309.80,606.51) rotate(-90)" x="0" y="0" font-size="14.75" textLength="80.36" lengthAdjust="spacingAndGlyphs" fill="#000">2022-01-19</text>
<text transform="translate(328.80,606.54) rotate(-90)" x="0" y="0" font-size="14.75" textLength="80.32" lengthAdjust="spacingAndGlyphs" fill="#000">2022-01-28</text>
<text transform="translate(347.80,606.61) rotate(-90)" x="0" y="0" font-size="14.75" textLength="80.41" lengthAdjust="spacingAndGlyphs" fill="#000">2022-02-06</text>
<text transform="translate(366.80,606.27) rotate(-90)" x="0" y="0" font-size="14.75" textLength="80.03" lengthAdjust="spacingAndGlyphs" fill="#000">2022-02-15</text>
<text transform="translate(386.80,606.71) rotate(-90)" x="0" y="0" font-size="14.75" textLength="80.27" lengthAdjust="spacingAndGlyphs" fill="#000">2022-02-24</text>
<text transform="translate(405.80,606.27) rotate(-90)" x="0" y="0" font-size="14.75" textLength="80.03" lengthAdjust="spacingAndGlyphs" fill="#000">2022-03-05</text>
<text transform="translate(424.80,606.71) rotate(-90)" x="0" y="0" font-size="14.75" textLength="80.27" lengthAdjust="spacingAndGlyphs" fill="#000">2022-03-14</text>
<text transform="translate(443.80,606.37) rotate(-90)" x="0" y="0" font-size="14.75" textLength="80.16" lengthAdjust="spacingAndGlyphs" fill="#000">2022-03-23</text>
<text transform="translate(462.80,606.20) rotate(-90)" x="0" y="0" font-size="14.75" textLength="80.07" lengthAdjust="spacingAndGlyphs" fill="#000">2022-04-01</text>
<text transform="translate(481.80,606.57) rotate(-90)" x="0" y="0" font-size="14.75" textLength="80.28" lengthAdjust="spacingAndGlyphs" fill="#000">2022-04-10</text>
<text transform="translate(500.80,606.51) rotate(-90)" x="0" y="0" font-size="14.75" textLength="80.36" lengthAdjust="spacingAndGlyphs" fill="#000">2022-04-19</text>
<text transform="translate(519.80,606.54) rotate(-90)" x="0" y="0" font-size="14.75" textLength="80.32" lengthAdjust="spacingAndGlyphs" fill="#000">2022-04-28</text>
<text transform="translate(538.80,606.30) rotate(-90)" x="0" y="0" font-size="14.75" textLength="80.19" lengthAdjust="spacingAndGlyphs" fill="#000">2022-05-07</text>
<text transform="translate(557.80,606.61) rotate(-90)" x="0" y="0" font-size="14.75" textLength="80.41" lengthAdjust="spacingAndGlyphs" fill="#000">2022-05-16</text>
<text transform="translate(577.80,606.27) rotate(-90)" x="0" y="0" font-size="14.75" textLength="80.03" lengthAdjust="spacingAndGlyphs" fill="#000">2022-05-25</text>
<text transform="translate(596.80,606.37) rotate(-90)" x="0" y="0" font-size="14.75" textLength="80.16" lengthAdjust="spacingAndGlyphs" fill="#000">2022-06-03</text>
<text transform="translate(615.80,606.10) rotate(-90)" x="0" y="0" font-size="14.75" textLength="79.98" lengthAdjust="spacingAndGlyphs" fill="#000">2022-06-12</text>
<text transform="translate(634.80,606.20) rotate(-90)" x="0" y="0" font-size="14.75" textLength="80.07" lengthAdjust="spacingAndGlyphs" fill="#000">2022-06-21</text>
<text transform="translate(653.80,606.57) rotate(-90)" x="0" y="0" font-size="14.75" textLength="80.28" lengthAdjust="spacingAndGlyphs" fill="#000">2022-06-30</text>
<text transform="translate(672.80,606.51) rotate(-90)" x="0" y="0" font-size="14.75" textLength="80.36" lengthAdjust="spacingAndGlyphs" fill="#000">2022-07-09</text>
<text transform="translate(691.80,606.54) rotate(-90)" x="0" y="0" font-size="14.75" textLength="80.32" lengthAdjust="spacingAndGlyphs" fill="#000">2022-07-18</text>
<text transform="translate(710.80,606.30) rotate(-90)" x="0" y="0" font-size="14.75" textLength="80.19" lengthAdjust="spacingAndGlyphs" fill="#000">2022-07-27</text>
<text transform="translate(729.80,606.27) rotate(-90)" x="0" y="0" font-size="14.75" textLength="80.03" lengthAdjust="spacingAndGlyphs" fill="#000">2022-08-05</text>
<text transform="translate(748.80,606.71) rotate(-90)" x="0" y="0" font-size="14.75" textLength="80.27" lengthAdjust="spacingAndGlyphs" fill="#000">2022-08-14</text>
<text transform="translate(768.80,606.37) rotate(-90)" x="0" y="0" font-size="14.75" textLength="80.16" lengthAdjust="spacingAndGlyphs" fill="#000">2022-08-23</text>
<text transform="translate(787.80,606.20) rotate(-90)" x="0" y="0" font-size="14.75" textLength="80.07" lengthAdjust="spacingAndGlyphs" fill="#000">2022-09-01</text>
<text transform="translate(806.80,606.57) rotate(-90)" x="0" y="0" font-size="14.75" textLength="80.28" lengthAdjust="spacingAndGlyphs" fill="#000">2022-09-10</text>
<text transform="translate(825.80,606.51) rotate(-90)" x="0" y="0" font-size="14.75" textLength="80.36" lengthAdjust="spacingAndGlyphs" fill="#000">2022-09-19</text>
<text transform="translate(844.80,606.54) rotate(-90)" x="0" y="0" font-size="14.75" textLength="80.32" lengthAdjust="spacingAndGlyphs" fill="#000">2022-09-28</text>
<text x="439.51" y="620.90" font-size="14.75" textLength="33.19" lengthAdjust="spacingAndGlyphs" fill="#000">Date</text>
<text transform="translate(19.90,329.14) rotate(-90)" x="0" y="0" font-size="14.75" textLength="70.98" lengthAdjust="spacingAndGlyphs" fill="#000">MSTR TDS</text>
<text x="267.96" y="36.60" font-size="36.80" textLength="352.37" lengthAdjust="spacingAndGlyphs" fill="#000">TD Sequential MSTR</text>
<text x="480.97" y="89.80" font-size="22.10" textLength="261.49" lengthAdjust="spacingAndGlyphs" fill="#000">2022-09-29 MSTR TDS: 4</text>
<text x="758.53" y="89.80" font-size="22.10" textLength="77.27" lengthAdjust="spacingAndGlyphs" fill="#800080">Neutral</text>
<text x="107.70" y="107.70" font-size="22.10" textLength="171.47" lengthAdjust="spacingAndGlyphs" fill="#000" fill-opacity="0.3">W3Data.io Chart</text>
<text x="107.90" y="130.60" font-size="22.10" textLength="277.91" lengthAdjust="spacingAndGlyphs" fill="#000" fill-opacity="0.3">Web3 Data &amp; NFT Platform</text>
<text x="848.03" y="114.90" font-size="14.75" textLength="105.07" lengthAdjust="spacingAndGlyphs" fill="#ff0000">Extreme Greed</text>
<text x="848.63" y="160.60" font-size="14.75" textLength="76.94" lengthAdjust="spacingAndGlyphs" fill="#ff4d4d">Very Greed</text>
<text x="848.34" y="173.90" font-size="14.75" textLength="42.04" lengthAdjust="spacingAndGlyphs" fill="#ff9999">Greed</text>
<text x="847.98" y="356.50" font-size="14.75" textLength="30.57" lengthAdjust="spacingAndGlyphs" fill="#99cc99">Fear</text>
<text x="849.14" y="368.80" font-size="14.75" textLength="64.51" lengthAdjust="spacingAndGlyphs" fill="#4da64d">Very Fear</text>
<text x="847.93" y="446.80" font-size="14.75" textLength="93.52" lengthAdjust="spacingAndGlyphs" fill="#008000">Extreme Fear</text>
</svg></body></html>
